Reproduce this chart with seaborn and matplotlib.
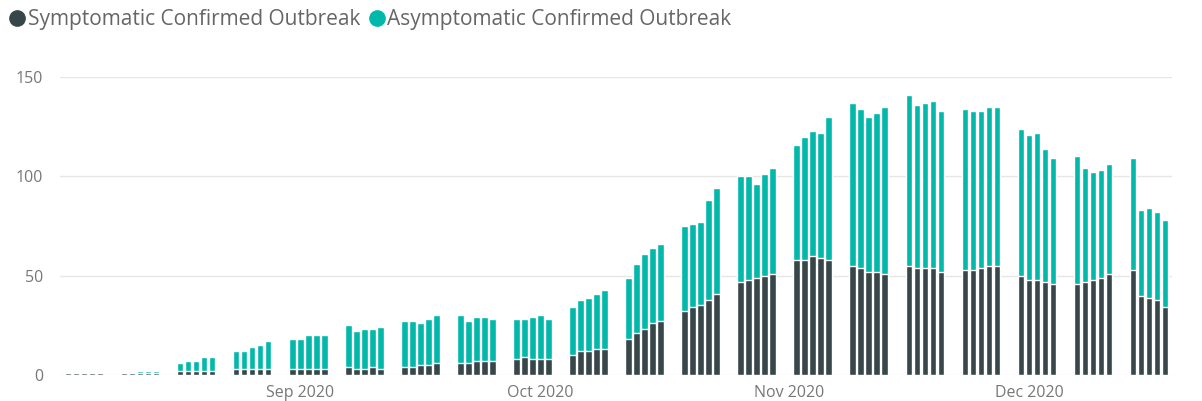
import matplotlib
matplotlib.use("Agg")
import matplotlib.pyplot as plt
import matplotlib.dates as mdates
from matplotlib.lines import Line2D
import numpy as np
import pandas as pd
import seaborn as sns

# Weekday reporting dates, 3 Aug - 18 Dec 2020
dates = pd.bdate_range("2020-08-03", "2020-12-18")

# Daily counts of confirmed outbreaks, one row per reporting week (Mon-Fri)
symptomatic = [
    1, 1, 1, 1, 1,
    1, 1, 1, 1, 1,
    2, 2, 2, 2, 2,
    3, 3, 3, 3, 3,
    3, 3, 3, 3, 3,
    4, 3, 3, 4, 3,
    4, 4, 5, 5, 6,
    6, 6, 7, 7, 7,
    8, 9, 8, 8, 8,
    10, 12, 12, 13, 13,
    18, 21, 23, 26, 27,
    32, 34, 35, 38, 41,
    47, 48, 49, 50, 51,
    58, 58, 60, 59, 58,
    55, 54, 52, 52, 51,
    55, 54, 54, 54, 52,
    53, 53, 54, 55, 55,
    50, 48, 48, 47, 46,
    46, 47, 48, 49, 51,
    53, 40, 39, 38, 34,
]
asymptomatic = [
    0, 0, 0, 0, 0,
    0, 0, 1, 1, 1,
    4, 5, 5, 7, 7,
    9, 9, 11, 12, 14,
    15, 15, 17, 17, 17,
    21, 19, 20, 19, 21,
    23, 23, 21, 23, 24,
    24, 21, 22, 22, 21,
    20, 19, 21, 22, 20,
    24, 26, 27, 28, 30,
    31, 35, 38, 38, 39,
    43, 42, 42, 50, 53,
    53, 52, 47, 51, 53,
    58, 62, 63, 63, 72,
    82, 80, 78, 80, 84,
    86, 82, 83, 84, 81,
    81, 80, 79, 80, 80,
    74, 73, 74, 67, 63,
    64, 57, 54, 54, 55,
    56, 43, 45, 44, 44,
]

series_names = ["Symptomatic Confirmed Outbreak", "Asymptomatic Confirmed Outbreak"]
month_ticks = pd.to_datetime(["2020-09-01", "2020-10-01", "2020-11-01", "2020-12-01"])
month_labels = ["Sep 2020", "Oct 2020", "Nov 2020", "Dec 2020"]
y_ticks = [0, 50, 100, 150]

DARK = "#374649"
TEAL = "#01B8AA"
TEXT = "#777777"

df = pd.DataFrame({
    "day": mdates.date2num(dates.to_pydatetime()),
    "symptomatic": symptomatic,
    "asymptomatic": asymptomatic,
})
df["total"] = df["symptomatic"] + df["asymptomatic"]

sns.set_theme(style="white")
plt.rcParams["font.family"] = ["Open Sans", "DejaVu Sans"]

fig = plt.figure(figsize=(12.02, 4.01), dpi=100)
ax = fig.add_axes([60 / 1202, 26 / 401, (1172 - 60) / 1202, (375 - 77) / 401])

# Stacked bars: full height in teal, symptomatic share drawn over it
sns.barplot(data=df, x="day", y="total", native_scale=True, color=TEAL,
            saturation=1, width=0.82, errorbar=None, ax=ax, zorder=2)
sns.barplot(data=df, x="day", y="symptomatic", native_scale=True, color=DARK,
            saturation=1, width=0.82, errorbar=None, ax=ax, zorder=3)

ax.set_xlim(df["day"].iloc[0] - 1.0, df["day"].iloc[-1] + 0.87)
ax.set_ylim(0, 150)
ax.set_yticks(y_ticks)
ax.set_yticklabels([str(v) for v in y_ticks])
ax.set_xticks(mdates.date2num(month_ticks.to_pydatetime()))
ax.set_xticklabels(month_labels)
ax.set_xlabel("")
ax.set_ylabel("")

ax.grid(axis="y", color="#e6e6e6", linewidth=1, zorder=0)
ax.grid(axis="x", visible=False)
ax.set_axisbelow(True)
for s in ax.spines.values():
    s.set_visible(False)
ax.tick_params(axis="y", length=0, pad=12, labelsize=11.5, labelcolor=TEXT)
ax.tick_params(axis="x", length=0, pad=7, labelsize=11.5, labelcolor=TEXT)

handles = [
    Line2D([], [], marker="o", linestyle="", markersize=11, color=DARK),
    Line2D([], [], marker="o", linestyle="", markersize=11, color=TEAL),
]
fig.legend(handles, series_names, loc="upper left", bbox_to_anchor=(11 / 1202, 1 - 9 / 401),
           ncol=2, frameon=False, fontsize=15.0, labelcolor="#666666",
           handlelength=0.6, handletextpad=0.2, columnspacing=0.5,
           borderpad=0, borderaxespad=0)

fig.savefig("out.png", dpi=100)
